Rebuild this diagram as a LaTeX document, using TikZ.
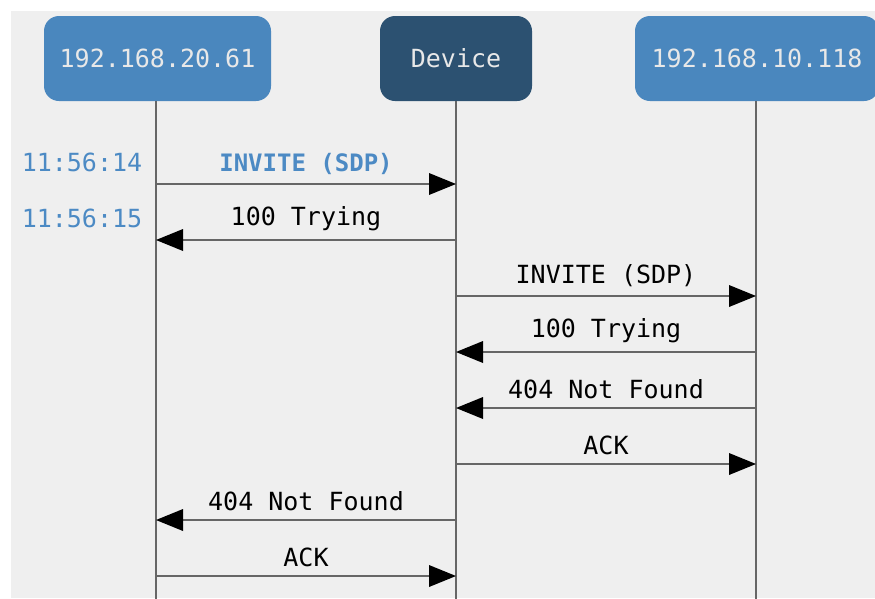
\documentclass[tikz,border=0pt]{standalone}
\usepackage{fontspec}
\setmonofont{DejaVu Sans Mono}
\usetikzlibrary{arrows.meta}
\definecolor{panel}{HTML}{EFEFEF}
\definecolor{hostblue}{HTML}{4A87BE}
\definecolor{devblue}{HTML}{2C5171}
\definecolor{boxtext}{HTML}{E8E8E8}
\definecolor{lifegray}{HTML}{666666}
\definecolor{stampblue}{HTML}{4C8AC4}
\tikzset{
  party/.style={rounded corners=15pt, minimum height=85pt, inner sep=0pt,
    text=boxtext, font=\ttfamily\fontsize{25}{29}\selectfont},
  lifeline/.style={draw=lifegray, line width=2.2pt},
  msg/.style={draw=lifegray, line width=2.4pt,
    -{Triangle[length=27pt,width=22pt,fill=black,color=black,line width=0pt]}},
  msglabel/.style={font=\ttfamily\fontsize{25}{29}\selectfont, text=black, above=5pt},
  stamp/.style={font=\ttfamily\fontsize{25}{29}\selectfont, text=stampblue}
}
\begin{document}
\begin{tikzpicture}[x=1pt,y=-1pt]
  \useasboundingbox (0,0) rectangle (875,598);
  \fill[panel] (11,11) rectangle (875,598);

  % participants
  \node[party, fill=hostblue, minimum width=227pt] (A) at (157.5,58.5) {192.168.20.61};
  \node[party, fill=devblue, minimum width=152pt] (D) at (456,58.5) {Device};
  \node[party, fill=hostblue, minimum width=244pt] (B) at (757,58.5) {192.168.10.118};

  % lifeline ends
  \coordinate (Aend) at (156,600);
  \coordinate (Dend) at (456,600);
  \coordinate (Bend) at (756,600);
  \draw[lifeline] (A.south -| Aend) -- (Aend);
  \draw[lifeline] (D.south) -- (Dend);
  \draw[lifeline] (B.south -| Bend) -- (Bend);

  % message points on the lifelines
  \foreach \i/\y in {1/184,2/240,3/296,4/352,5/408,6/464,7/520,8/576}{
    \coordinate (a\i) at (156,\y);
    \coordinate (d\i) at (456,\y);
    \coordinate (b\i) at (756,\y);
  }

  % messages
  \draw[msg] (a1) -- node[msglabel, text=stampblue, font=\ttfamily\bfseries\fontsize{24}{28}\selectfont] {INVITE (SDP)} (d1);
  \draw[msg] (d2) -- node[msglabel] {100 Trying} (a2);
  \draw[msg] (d3) -- node[msglabel] {INVITE (SDP)} (b3);
  \draw[msg] (b4) -- node[msglabel] {100 Trying} (d4);
  \draw[msg] (b5) -- node[msglabel] {404 Not Found} (d5);
  \draw[msg] (d6) -- node[msglabel] {ACK} (b6);
  \draw[msg] (d7) -- node[msglabel] {404 Not Found} (a7);
  \draw[msg] (a8) -- node[msglabel] {ACK} (d8);

  % timestamps
  \node[stamp] (t1) at (82,162) {11:56:14};
  \node[stamp] (t2) at (82,218) {11:56:15};
\end{tikzpicture}
\end{document}
